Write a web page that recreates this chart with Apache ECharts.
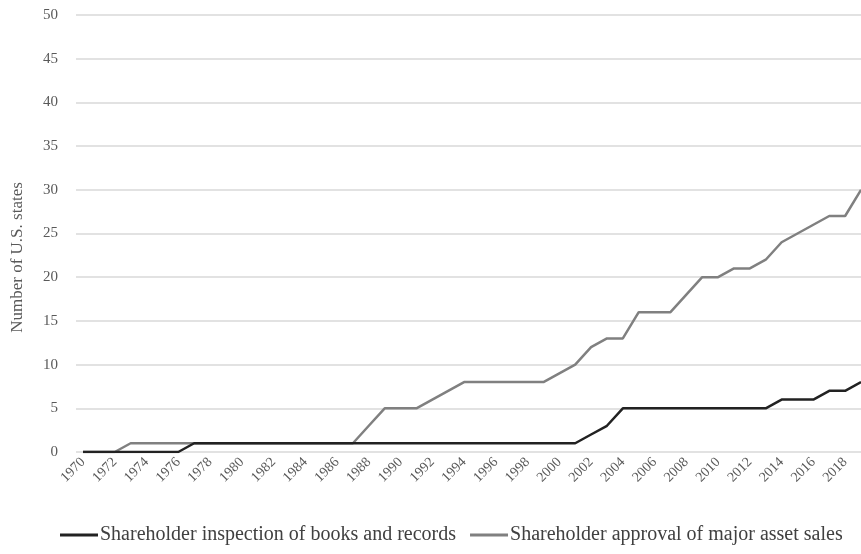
<!DOCTYPE html>
<html><head><meta charset="utf-8">
<script src="https://cdn.jsdelivr.net/npm/echarts@6/dist/echarts.min.js"></script>
<style>html,body{margin:0;padding:0;background:#fff}#c{width:861px;height:554px}</style>
</head><body><div id="c"></div>
<script>
const years = [];
for (let y = 1970; y <= 2019; y++) years.push(String(y));
const inspection = [0,0,0,0,0,0,0,1,1,1, 1,1,1,1,1,1,1,1,1,1, 1,1,1,1,1,1,1,1,1,1, 1,1,2,3,5,5,5,5,5,5, 5,5,5,5,6,6,6,7,7,8];
const assetSales = [0,0,0,1,1,1,1,1,1,1, 1,1,1,1,1,1,1,1,3,5, 5,5,6,7,8,8,8,8,8,8, 9,10,12,13,13,16,16,16,18,20, 20,21,21,22,24,25,26,27,27,30];
const seriesNames = ['Shareholder inspection of books and records','Shareholder approval of major asset sales'];
const yAxisName = 'Number of U.S. states';

const font = '"Liberation Serif", "Times New Roman", serif';
const chart = echarts.init(document.getElementById('c'));
chart.setOption({
  animation: false,
  textStyle: {fontFamily: font},
  grid: [
    {left: 76, right: 0, top: 15, bottom: 102},
    {left: 83, right: 0, top: 15, bottom: 102}
  ],
  xAxis: [
    {type: 'value', gridIndex: 0, show: false, min: 0, max: 1},
    {
      type: 'category', gridIndex: 1, data: years, boundaryGap: false,
      axisLine: {show: false},
      axisTick: {show: false},
      axisLabel: {rotate: 45, interval: 1, fontFamily: font, fontSize: 14, color: '#595959', margin: 8}
    }
  ],
  yAxis: [
    {
      type: 'value', gridIndex: 0, min: 0, max: 50, interval: 5,
      name: yAxisName, nameLocation: 'middle', nameGap: 50,
      nameTextStyle: {fontFamily: font, fontSize: 17, color: '#595959', padding: [0, 48, 0, 0]},
      axisLine: {show: false}, axisTick: {show: false},
      axisLabel: {fontFamily: font, fontSize: 15, color: '#595959', margin: 18},
      splitLine: {show: true, lineStyle: {color: '#d9d9d9', width: 1.5}}
    },
    {type: 'value', gridIndex: 1, min: 0, max: 50, interval: 5, show: false, splitLine: {show: false}}
  ],
  legend: {
    bottom: 4, left: 55, itemWidth: 38, itemHeight: 3, itemGap: 14,
    icon: 'rect',
    textStyle: {fontFamily: font, fontSize: 20, color: '#404040', padding: [0,0,0,-3]},
    data: seriesNames
  },
  series: [
    {name: seriesNames[0], type: 'line', xAxisIndex: 1, yAxisIndex: 1, data: inspection, symbol: 'none', lineStyle: {color: '#222222', width: 2.5}, itemStyle: {color: '#222222'}, z: 3},
    {name: seriesNames[1], type: 'line', xAxisIndex: 1, yAxisIndex: 1, data: assetSales, symbol: 'none', lineStyle: {color: '#808080', width: 2.5}, itemStyle: {color: '#808080'}, z: 2}
  ]
});
</script></body></html>
